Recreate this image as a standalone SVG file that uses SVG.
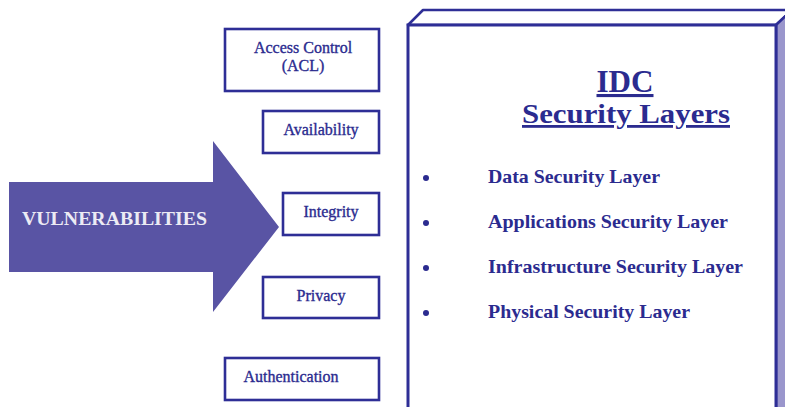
<svg xmlns="http://www.w3.org/2000/svg" width="785" height="407" viewBox="0 0 785 407">
<style>
.box{fill:#ffffff;stroke:#2e2e96;stroke-width:2.6}
.lbl{font-family:"Liberation Serif","Times New Roman",serif;font-size:16px;fill:#2b2b8f;stroke:#2b2b8f;stroke-width:0.35;text-anchor:middle}
.item{font-family:"Liberation Serif","Times New Roman",serif;font-size:19px;font-weight:bold;fill:#2b2b8f}
.ttl{font-family:"Liberation Serif","Times New Roman",serif;font-weight:bold;fill:#2b2b8f;text-anchor:middle;text-decoration:underline}
.dot{fill:#2b2b8f}
</style>
<rect width="785" height="407" fill="#ffffff"/>
<g id="arrow">
<polygon points="9,182 213,182 213,141 279,227 213,312 213,272 9,272" fill="#5954a4"/>
<text x="22" y="225" font-family="Liberation Serif, Times New Roman, serif" font-size="18" font-weight="bold" fill="#ecebf4" textLength="185" lengthAdjust="spacingAndGlyphs">VULNERABILITIES</text>
</g>
<g id="connectors"></g>
<g id="access-control">
<rect class="box" x="225" y="29" width="154" height="62"/>
<text class="lbl" x="303" y="53">Access Control</text>
<text class="lbl" x="303" y="71">(ACL)</text>
</g>
<g id="availability">
<rect class="box" x="263" y="111" width="116" height="42"/>
<text class="lbl" x="321" y="135">Availability</text>
</g>
<g id="integrity">
<rect class="box" x="283" y="193" width="96" height="42"/>
<text class="lbl" x="331" y="217">Integrity</text>
</g>
<g id="privacy">
<rect class="box" x="263" y="277" width="116" height="41"/>
<text class="lbl" x="321" y="301">Privacy</text>
</g>
<g id="authentication">
<rect class="box" x="225" y="358" width="154" height="42"/>
<text class="lbl" x="291" y="382">Authentication</text>
</g>
<g id="idc-security-layers">
<polygon points="408,25 423,10 792,10 776,25" fill="#ffffff" stroke="#2e2e96" stroke-width="2.6" stroke-linejoin="round"/>
<polygon points="776,25 792,10 792,410 776,410" fill="#9a96cc" stroke="#2e2e96" stroke-width="2.6"/>
<rect x="408" y="25" width="368" height="390" fill="#ffffff" stroke="#2e2e96" stroke-width="3"/>
<text class="ttl" x="625" y="92" font-size="31" textLength="57" lengthAdjust="spacingAndGlyphs">IDC</text>
<text class="ttl" x="626" y="123" font-size="28" textLength="208" lengthAdjust="spacingAndGlyphs">Security Layers</text>
<circle class="dot" cx="426" cy="178" r="3"/>
<circle class="dot" cx="426" cy="223" r="3"/>
<circle class="dot" cx="426" cy="268" r="3"/>
<circle class="dot" cx="426" cy="313" r="3"/>
<text class="item" x="488" y="183" textLength="172" lengthAdjust="spacingAndGlyphs">Data Security Layer</text>
<text class="item" x="488" y="228" textLength="240" lengthAdjust="spacingAndGlyphs">Applications Security Layer</text>
<text class="item" x="488" y="273" textLength="255" lengthAdjust="spacingAndGlyphs">Infrastructure Security Layer</text>
<text class="item" x="488" y="318" textLength="202" lengthAdjust="spacingAndGlyphs">Physical Security Layer</text>
</g>
</svg>
